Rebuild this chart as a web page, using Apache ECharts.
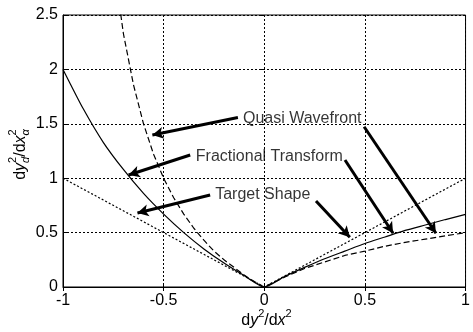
<!DOCTYPE html>
<html>
<head>
<meta charset="utf-8">
<script src="https://cdn.jsdelivr.net/npm/echarts@6/dist/echarts.min.js"></script>
<style>html,body{margin:0;padding:0;background:#fff}#c{width:473px;height:332px}</style>
</head>
<body>
<div id="c"></div>
<script>
// ---- data ----
const xTicks = [-1, -0.5, 0, 0.5, 1];
const yTicks = [0, 0.5, 1, 1.5, 2, 2.5];

const xTarget = [-1, 0, 1];
const targetShape = [1, 0, 1];

const xFractional = [-1,-0.9,-0.8,-0.7,-0.6,-0.5,-0.4,-0.3,-0.2,-0.1,0,0.1,0.2,0.3,0.4,0.5,0.6,0.7,0.8,0.9,1];
const fractionalTransform = [2.0,1.64,1.33,1.08,0.86,0.67,0.50,0.35,0.22,0.105,0,0.095,0.18,0.26,0.33,0.40,0.46,0.52,0.57,0.62,0.667];

const xQuasi = [-0.75,-0.7,-0.65,-0.6,-0.55,-0.5,-0.45,-0.4,-0.35,-0.3,-0.25,-0.2,-0.15,-0.1,-0.05,0,0.1,0.2,0.3,0.4,0.5,0.6,0.7,0.8,0.9,1];
const quasiWavefront = [3.0,2.33,1.86,1.5,1.22,1.0,0.82,0.67,0.54,0.43,0.33,0.25,0.18,0.11,0.05,0,0.09,0.17,0.23,0.29,0.33,0.375,0.41,0.44,0.47,0.5];

// annotation texts (left edge, vertical centre) in data coords
const annoNames = ['Quasi Wavefront', 'Fractional Transform', 'Target Shape'];
const annoX = [-0.106, -0.340, -0.244];
const annoY = [1.544, 1.199, 0.846];

// arrows: start -> tip, data coords
const arrowFrom = [[-0.131,1.558],[-0.368,1.213],[-0.269,0.846],[0.257,0.790],[0.401,1.167],[0.496,1.473]];
const arrowTo   = [[-0.556,1.397],[-0.674,1.029],[-0.630,0.680],[0.425,0.457],[0.640,0.494],[0.853,0.494]];

// ---- chart ----
const FONT = '"Liberation Sans", Arial, sans-serif';
const chart = echarts.init(document.getElementById('c'), null, {renderer: 'canvas'});

const zip = (xs, ys) => xs.map((x, i) => [x, ys[i]]);

// build math-like axis names with measured glyph widths
const ctx = document.createElement('canvas').getContext('2d');
function measure(t, fs, it) {
  ctx.font = (it ? 'italic ' : '') + fs + 'px ' + FONT;
  return ctx.measureText(t).width;
}
function mathTexts(tokens, fs) {
  const sfs = Math.round(fs * 0.68);
  let x = 0;
  const items = [];
  tokens.forEach(tk => {
    if (tk.sup !== undefined || tk.sub !== undefined) {
      let w = 0;
      if (tk.sup !== undefined) {
        items.push({t: tk.sup, x: x, y: -0.45 * fs, fs: sfs, it: tk.supIt});
        w = Math.max(w, measure(tk.sup, sfs, tk.supIt));
      }
      if (tk.sub !== undefined) {
        items.push({t: tk.sub, x: x, y: 0.32 * fs, fs: sfs, it: tk.subIt});
        w = Math.max(w, measure(tk.sub, sfs, tk.subIt));
      }
      x += w;
    } else {
      items.push({t: tk.t, x: x, y: 0, fs: fs, it: tk.it});
      x += measure(tk.t, fs, tk.it);
    }
  });
  const W = x;
  return items.map(o => ({
    type: 'text',
    x: o.x - W / 2,
    y: o.y,
    style: {
      text: o.t,
      font: (o.it ? 'italic ' : '') + o.fs + 'px ' + FONT,
      fill: '#000',
      verticalAlign: 'middle',
      align: 'left'
    }
  }));
}

const xNameTokens = [{t:'d'},{t:'y',it:true},{sup:'2'},{t:'/d'},{t:'x',it:true},{sup:'2'}];
const yNameTokens = [{t:'d'},{t:'y',it:true},{sup:'2',sub:'d',subIt:true},{t:'/d'},{t:'x',it:true},{sup:'2',sub:'α',subIt:true}];

const axisLabelStyle = {color: '#000', fontSize: 16, fontFamily: FONT};

chart.setOption({
  animation: false,
  backgroundColor: '#fff',
  grid: {left: 63, right: 5, top: 15, bottom: 45, show: true, borderColor: '#000', borderWidth: 1, containLabel: false},
  xAxis: [{
    type: 'value', min: -1, max: 1, interval: 0.5,
    axisLine: {show: true, onZero: false, lineStyle: {color: '#000', width: 1}},
    axisTick: {show: true, inside: true, length: 4, lineStyle: {color: '#000'}},
    axisLabel: Object.assign({margin: 6, formatter: v => String(v)}, axisLabelStyle),
    splitLine: {show: true, lineStyle: {color: '#000', width: 1, type: [2, 2]}}
  }, {
    type: 'value', min: -1, max: 1, interval: 0.5, position: 'top',
    axisLine: {show: false},
    axisTick: {show: true, inside: true, length: 4, lineStyle: {color: '#000'}},
    axisLabel: {show: false}, splitLine: {show: false}
  }],
  yAxis: [{
    type: 'value', min: 0, max: 2.5, interval: 0.5,
    axisLine: {show: true, onZero: false, lineStyle: {color: '#000', width: 1}},
    axisTick: {show: true, inside: true, length: 4, lineStyle: {color: '#000'}},
    axisLabel: Object.assign({margin: 5, formatter: v => String(v)}, axisLabelStyle),
    splitLine: {show: true, lineStyle: {color: '#000', width: 1, type: [2, 2]}}
  }, {
    type: 'value', min: 0, max: 2.5, interval: 0.5, position: 'right',
    axisLine: {show: false},
    axisTick: {show: true, inside: true, length: 4, lineStyle: {color: '#000'}},
    axisLabel: {show: false}, splitLine: {show: false}
  }],
  series: [
    {
      name: 'Target Shape', type: 'line', data: zip(xTarget, targetShape),
      showSymbol: false, symbol: 'none', clip: true,
      lineStyle: {color: '#000', width: 1.2, type: [2, 2]},
      markLine: {
        silent: true, animation: false,
        symbol: ['none', 'arrow'], symbolSize: [9, 11],
        label: {show: false},
        lineStyle: {color: '#000', width: 3, type: 'solid'},
        emphasis: {disabled: true},
        data: arrowFrom.map((p, i) => [{coord: p}, {coord: arrowTo[i]}])
      }
    },
    {
      name: 'Fractional Transform', type: 'line', data: zip(xFractional, fractionalTransform),
      showSymbol: false, symbol: 'none', clip: true, smooth: 0.2,
      lineStyle: {color: '#000', width: 1.2, type: 'solid'}
    },
    {
      name: 'Quasi Wavefront', type: 'line', data: zip(xQuasi, quasiWavefront),
      showSymbol: false, symbol: 'none', clip: true,
      lineStyle: {color: '#000', width: 1.2, type: [6, 3]}
    },
    {
      name: 'annotations', type: 'scatter', symbolSize: 0, silent: true,
      data: annoNames.map((n, i) => ({name: n, value: [annoX[i], annoY[i]]})),
      label: {show: true, position: 'right', distance: 0, formatter: '{b}', color: '#000', fontSize: 16, fontFamily: FONT}
    }
  ],
  graphic: [
    {type: 'group', x: 266.5, y: 321, children: mathTexts(xNameTokens, 16)},
    {type: 'group', x: 20.5, y: 154.5, rotation: Math.PI / 2, children: mathTexts(yNameTokens, 16)}
  ]
});
</script>
</body>
</html>
